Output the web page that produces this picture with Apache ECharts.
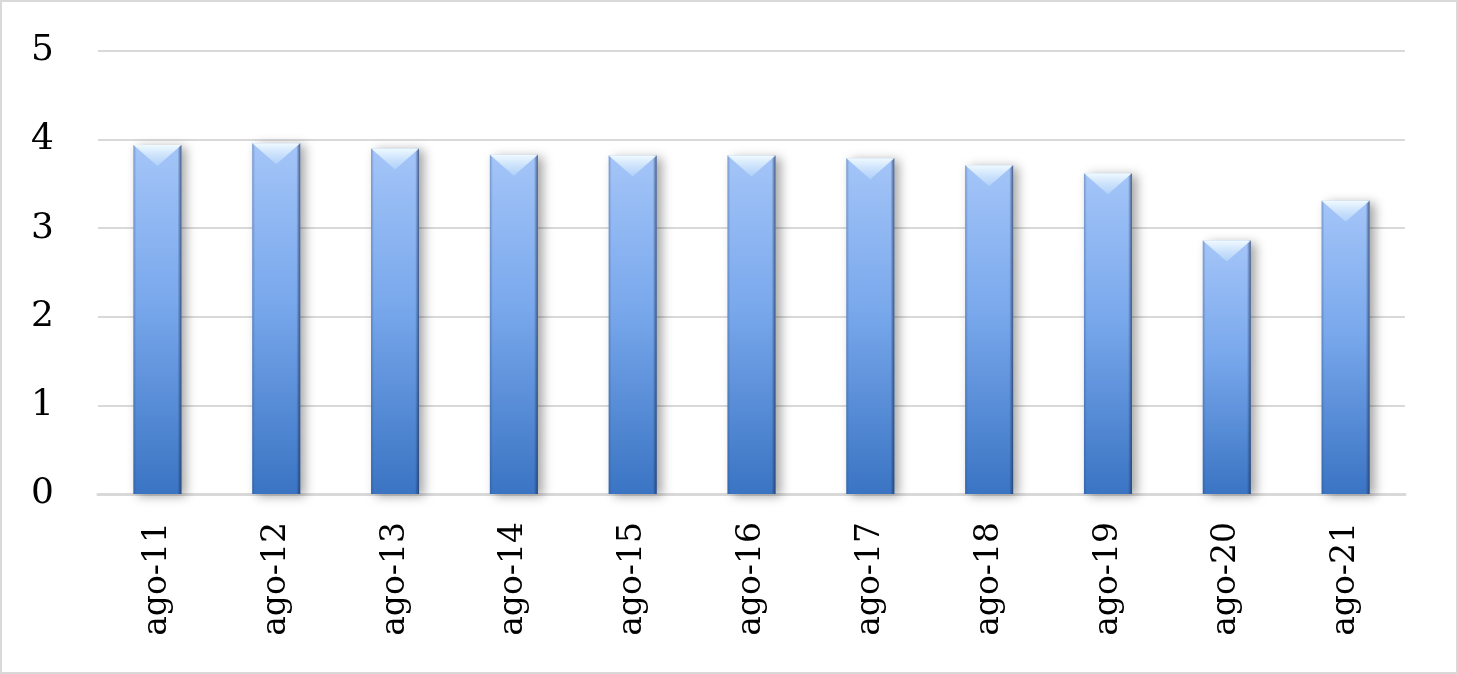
<!DOCTYPE html>
<html>
<head>
<meta charset="utf-8">
<script src="https://cdn.jsdelivr.net/npm/echarts@6/dist/echarts.min.js"></script>
<style>
  html, body { margin: 0; padding: 0; background: #fff; }
  #chart { width: 1458px; height: 674px; box-sizing: border-box; border: 2px solid #d9d9d9; }
</style>
</head>
<body>
<div id="chart"></div>
<script>
var categories = ['ago-11', 'ago-12', 'ago-13', 'ago-14', 'ago-15', 'ago-16', 'ago-17', 'ago-18', 'ago-19', 'ago-20', 'ago-21'];
var values = [3.94, 3.96, 3.90, 3.83, 3.82, 3.82, 3.79, 3.71, 3.62, 2.86, 3.31];
var yTicks = [0, 1, 2, 3, 4, 5];

var myChart = echarts.init(document.getElementById('chart'));
var font = '"DejaVu Serif", "Liberation Serif", serif';

var option = {
  animation: false,
  grid: { left: 96, right: 51, top: 49, bottom: 178 },
  xAxis: {
    type: 'category',
    data: categories,
    axisLine: { lineStyle: { color: '#d9d9d9', width: 3 } },
    axisTick: { show: false },
    axisLabel: { rotate: 90, margin: 28, color: '#000', fontFamily: font, fontSize: 33 }
  },
  yAxis: {
    type: 'value',
    min: yTicks[0],
    max: yTicks[yTicks.length - 1],
    interval: 1,
    axisLine: { show: false },
    axisTick: { show: false },
    axisLabel: { margin: 44, color: '#000', fontFamily: font, fontSize: 36 },
    splitLine: { lineStyle: { color: '#d9d9d9', width: 2 } }
  },
  series: [
    {
      // main bar body, light at top to darker blue at bottom
      type: 'bar',
      data: values,
      barWidth: 48,
      z: 2,
      itemStyle: {
        color: new echarts.graphic.LinearGradient(0, 0, 0, 1, [
          { offset: 0, color: '#a4c5f8' },
          { offset: 0.45, color: '#79a8ec' },
          { offset: 1, color: '#3a74c3' }
        ]),
        shadowColor: 'rgba(0,0,0,0.35)',
        shadowBlur: 10,
        shadowOffsetX: 5,
        shadowOffsetY: 2
      }
    },
    {
      // dark side edges
      type: 'bar',
      data: values,
      barWidth: 48,
      barGap: '-100%',
      z: 3,
      silent: true,
      itemStyle: {
        color: new echarts.graphic.LinearGradient(0, 0, 1, 0, [
          { offset: 0, color: 'rgba(40,70,120,0.35)' },
          { offset: 0.06, color: 'rgba(40,70,120,0)' },
          { offset: 0.92, color: 'rgba(30,50,90,0)' },
          { offset: 1, color: 'rgba(30,50,90,0.7)' }
        ])
      }
    },
    {
      // bevel triangle at the bar top
      type: 'pictorialBar',
      data: values,
      symbol: 'path://M0,0 L48,0 L24,21 Z',
      symbolSize: [48, 21],
      symbolPosition: 'end',
      z: 4,
      silent: true,
      itemStyle: {
        color: new echarts.graphic.LinearGradient(0, 0, 0, 1, [
          { offset: 0, color: 'rgba(240,250,255,1)' },
          { offset: 1, color: 'rgba(185,215,250,0.7)' }
        ])
      }
    }
  ]
};
myChart.setOption(option);
</script>
</body>
</html>
